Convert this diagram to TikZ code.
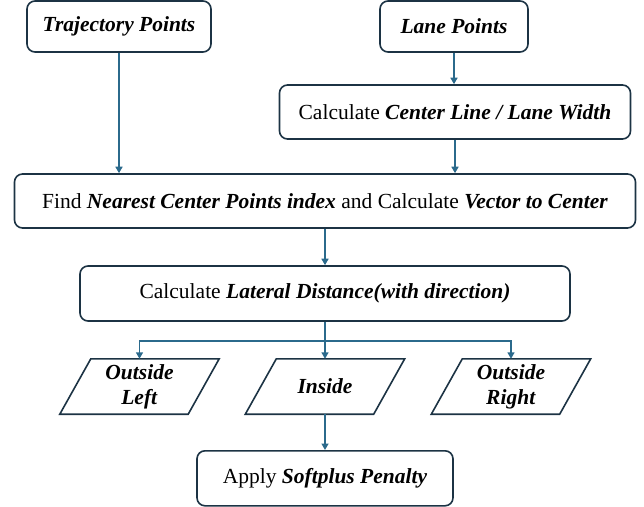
\documentclass[tikz,border=0pt]{standalone}
\usepackage{fontspec}
\setmainfont{Liberation Serif}
\usetikzlibrary{arrows.meta}
\definecolor{arrowblue}{HTML}{2B6A8C}
\definecolor{boxline}{HTML}{1C3344}
\newcommand{\drawpara}[1]{%
  \draw[pline] ([xshift=15.5bp]#1.north west) -- ([xshift=15.5bp]#1.north east)
    -- ([xshift=-15.5bp]#1.south east) -- ([xshift=-15.5bp]#1.south west) -- cycle;}
\begin{document}
\begin{tikzpicture}[x=1bp,y=-1bp,
  every node/.style={font=\fontsize{21.5bp}{25bp}\selectfont, inner sep=0pt, align=center},
  rbox/.style={draw=boxline, line width=1.6bp, rounded corners=8bp, fill=white},
  pbox/.style={minimum height=55bp, minimum width=128bp},
  pline/.style={draw=boxline, line width=1.6bp, line join=miter},
  conn/.style={draw=arrowblue, line width=1.5bp},
  arr/.style={conn, -{Triangle[width=7bp,length=6.5bp]}}]
\useasboundingbox (0,0) rectangle (644,507);
\node[rbox, minimum width=184bp, minimum height=51bp] (traj) at (119,26.5) {\textbf{\textit{Trajectory Points}}};
\node[rbox, minimum width=148bp, minimum height=51bp] (lane) at (454,26.5) {\textbf{\textit{Lane Points}}};
\node[rbox, minimum width=351bp, minimum height=54bp] (cent) at (455,112) {Calculate \textbf{\textit{Center Line / Lane Width}}};
\node[rbox, minimum width=621bp, minimum height=54bp] (find) at (325,201) {Find \textbf{\textit{Nearest Center Points index}} and Calculate \textbf{\textit{Vector to Center}}};
\node[rbox, minimum width=490bp, minimum height=55bp] (lat) at (325,293.5) {Calculate \textbf{\textit{Lateral Distance(with direction)}}};
\node[pbox] (oleft) at (139.5,386.5) {\textbf{\textit{Outside}}\\\textbf{\textit{Left}}};
\node[pbox] (ins) at (325,386.5) {\textbf{\textit{Inside}}};
\node[pbox] (oright) at (511,386.5) {\textbf{\textit{Outside}}\\\textbf{\textit{Right}}};
\drawpara{oleft}
\drawpara{ins}
\drawpara{oright}
\node[rbox, minimum width=256bp, minimum height=55bp] (apply) at (325,478.3) {Apply \textbf{\textit{Softplus Penalty}}};
\draw[arr] (traj.south) -- (traj.south |- find.north);
\draw[arr] (lane.south) -- (lane.south |- cent.north);
\draw[arr] (cent.south) -- (cent.south |- find.north);
\draw[arr] (find.south) -- (find.south |- lat.north);
\draw[conn] (lat.south) -- ++(0,19) coordinate (br);
\draw[arr] (br) -| (oleft.north);
\draw[arr] (br) -| (oright.north);
\draw[arr] (br) -- (br |- ins.north);
\draw[arr] (ins.south) -- (ins.south |- apply.north);
\end{tikzpicture}
\end{document}
